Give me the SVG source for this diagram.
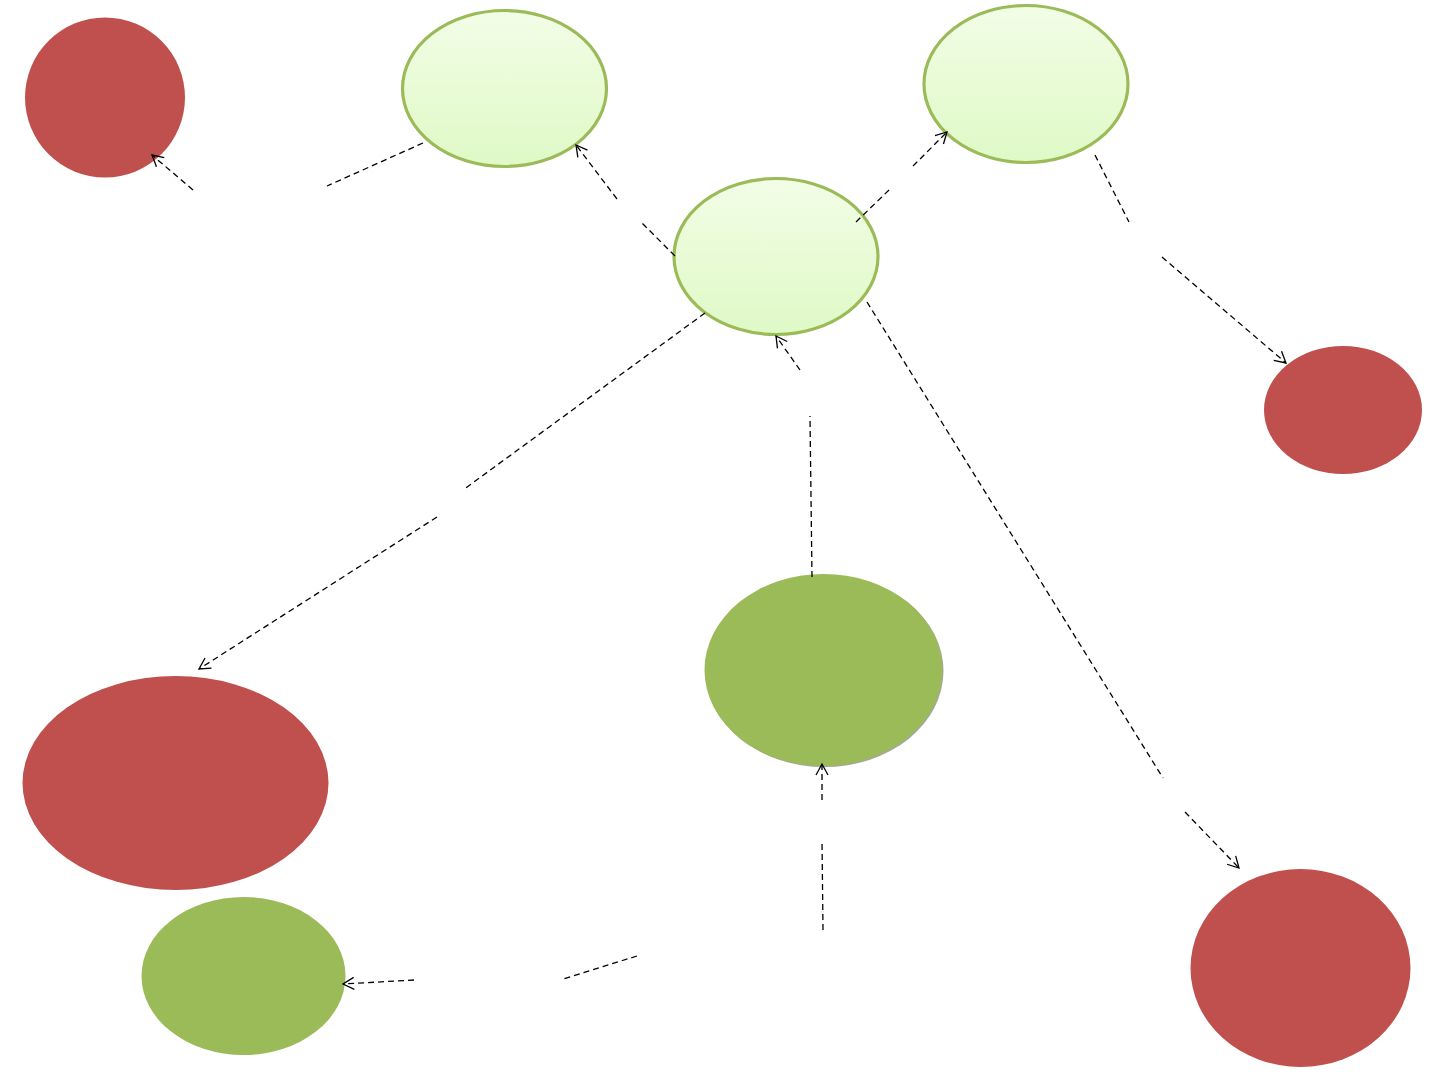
<svg xmlns="http://www.w3.org/2000/svg" width="1440" height="1080" viewBox="0 0 1440 1080">
<defs>
<linearGradient id="lg" x1="0" y1="0" x2="0" y2="1">
<stop offset="0" stop-color="#F2FDE6"/>
<stop offset="1" stop-color="#DFF9C6"/>
</linearGradient>
<marker id="arr" markerWidth="14" markerHeight="14" refX="12" refY="7" orient="auto" markerUnits="userSpaceOnUse">
<path d="M1,1 L12,7 L1,13" fill="none" stroke="#000" stroke-width="1.3"/>
</marker>
</defs>
<style>
.red{fill:#C0504D}
.lite{fill:url(#lg);stroke:#9BBB59;stroke-width:3.2}
.grn{fill:#9BBB59}
.c line{stroke:#000;stroke-width:1.3;stroke-dasharray:6,4;fill:none}
.c line.a{marker-end:url(#arr)}
</style>
<rect width="1440" height="1080" fill="#fff"/>
<g id="n1"><ellipse class="red" cx="105" cy="97.5" rx="80" ry="80"/></g>
<g id="n2"><ellipse class="lite" cx="504.5" cy="88.5" rx="102" ry="78"/></g>
<g id="n3"><ellipse class="lite" cx="1026" cy="84" rx="102" ry="78.5"/></g>
<g id="n4"><ellipse class="lite" cx="776" cy="256.5" rx="102" ry="78"/></g>
<g id="n5"><ellipse class="red" cx="1343" cy="410" rx="79" ry="64"/></g>
<g id="n6"><ellipse cx="824.5" cy="671" rx="119" ry="96" fill="#A5A5A5"/><ellipse class="grn" cx="823.5" cy="670" rx="119" ry="96"/></g>
<g id="n7"><ellipse class="red" cx="175.5" cy="783" rx="153" ry="107"/></g>
<g id="n8"><ellipse class="grn" cx="243.5" cy="976" rx="102" ry="79"/></g>
<g id="n9"><ellipse class="red" cx="1300.5" cy="968" rx="110" ry="99"/></g>
<g id="connectors" class="c">
<g id="e1"><line x1="423" y1="143" x2="327" y2="186"/><line class="a" x1="193" y1="190" x2="152" y2="155"/></g>
<g id="e2"><line x1="675" y1="256" x2="641" y2="222"/><line class="a" x1="617" y1="199" x2="576" y2="145"/></g>
<g id="e3"><line x1="856" y1="222" x2="890" y2="189"/><line class="a" x1="913" y1="166" x2="947" y2="132"/></g>
<g id="e4"><line x1="1095" y1="155" x2="1129" y2="222"/><line class="a" x1="1162" y1="257" x2="1286" y2="363"/></g>
<g id="e5"><line x1="705" y1="313" x2="463" y2="490"/><line class="a" x1="437" y1="517" x2="199" y2="669"/></g>
<g id="e6"><line x1="812" y1="577" x2="810" y2="416"/><line class="a" x1="800" y1="370" x2="776" y2="336"/></g>
<g id="e7"><line x1="867" y1="302" x2="1163" y2="778"/><line class="a" x1="1185" y1="812" x2="1239" y2="868"/></g>
<g id="e8"><line x1="823" y1="930" x2="822" y2="840"/><line class="a" x1="822" y1="800" x2="822" y2="764"/></g>
<g id="e9"><line x1="637" y1="956" x2="563" y2="979"/><line class="a" x1="414" y1="980" x2="343" y2="984"/></g>
</g>
</svg>
